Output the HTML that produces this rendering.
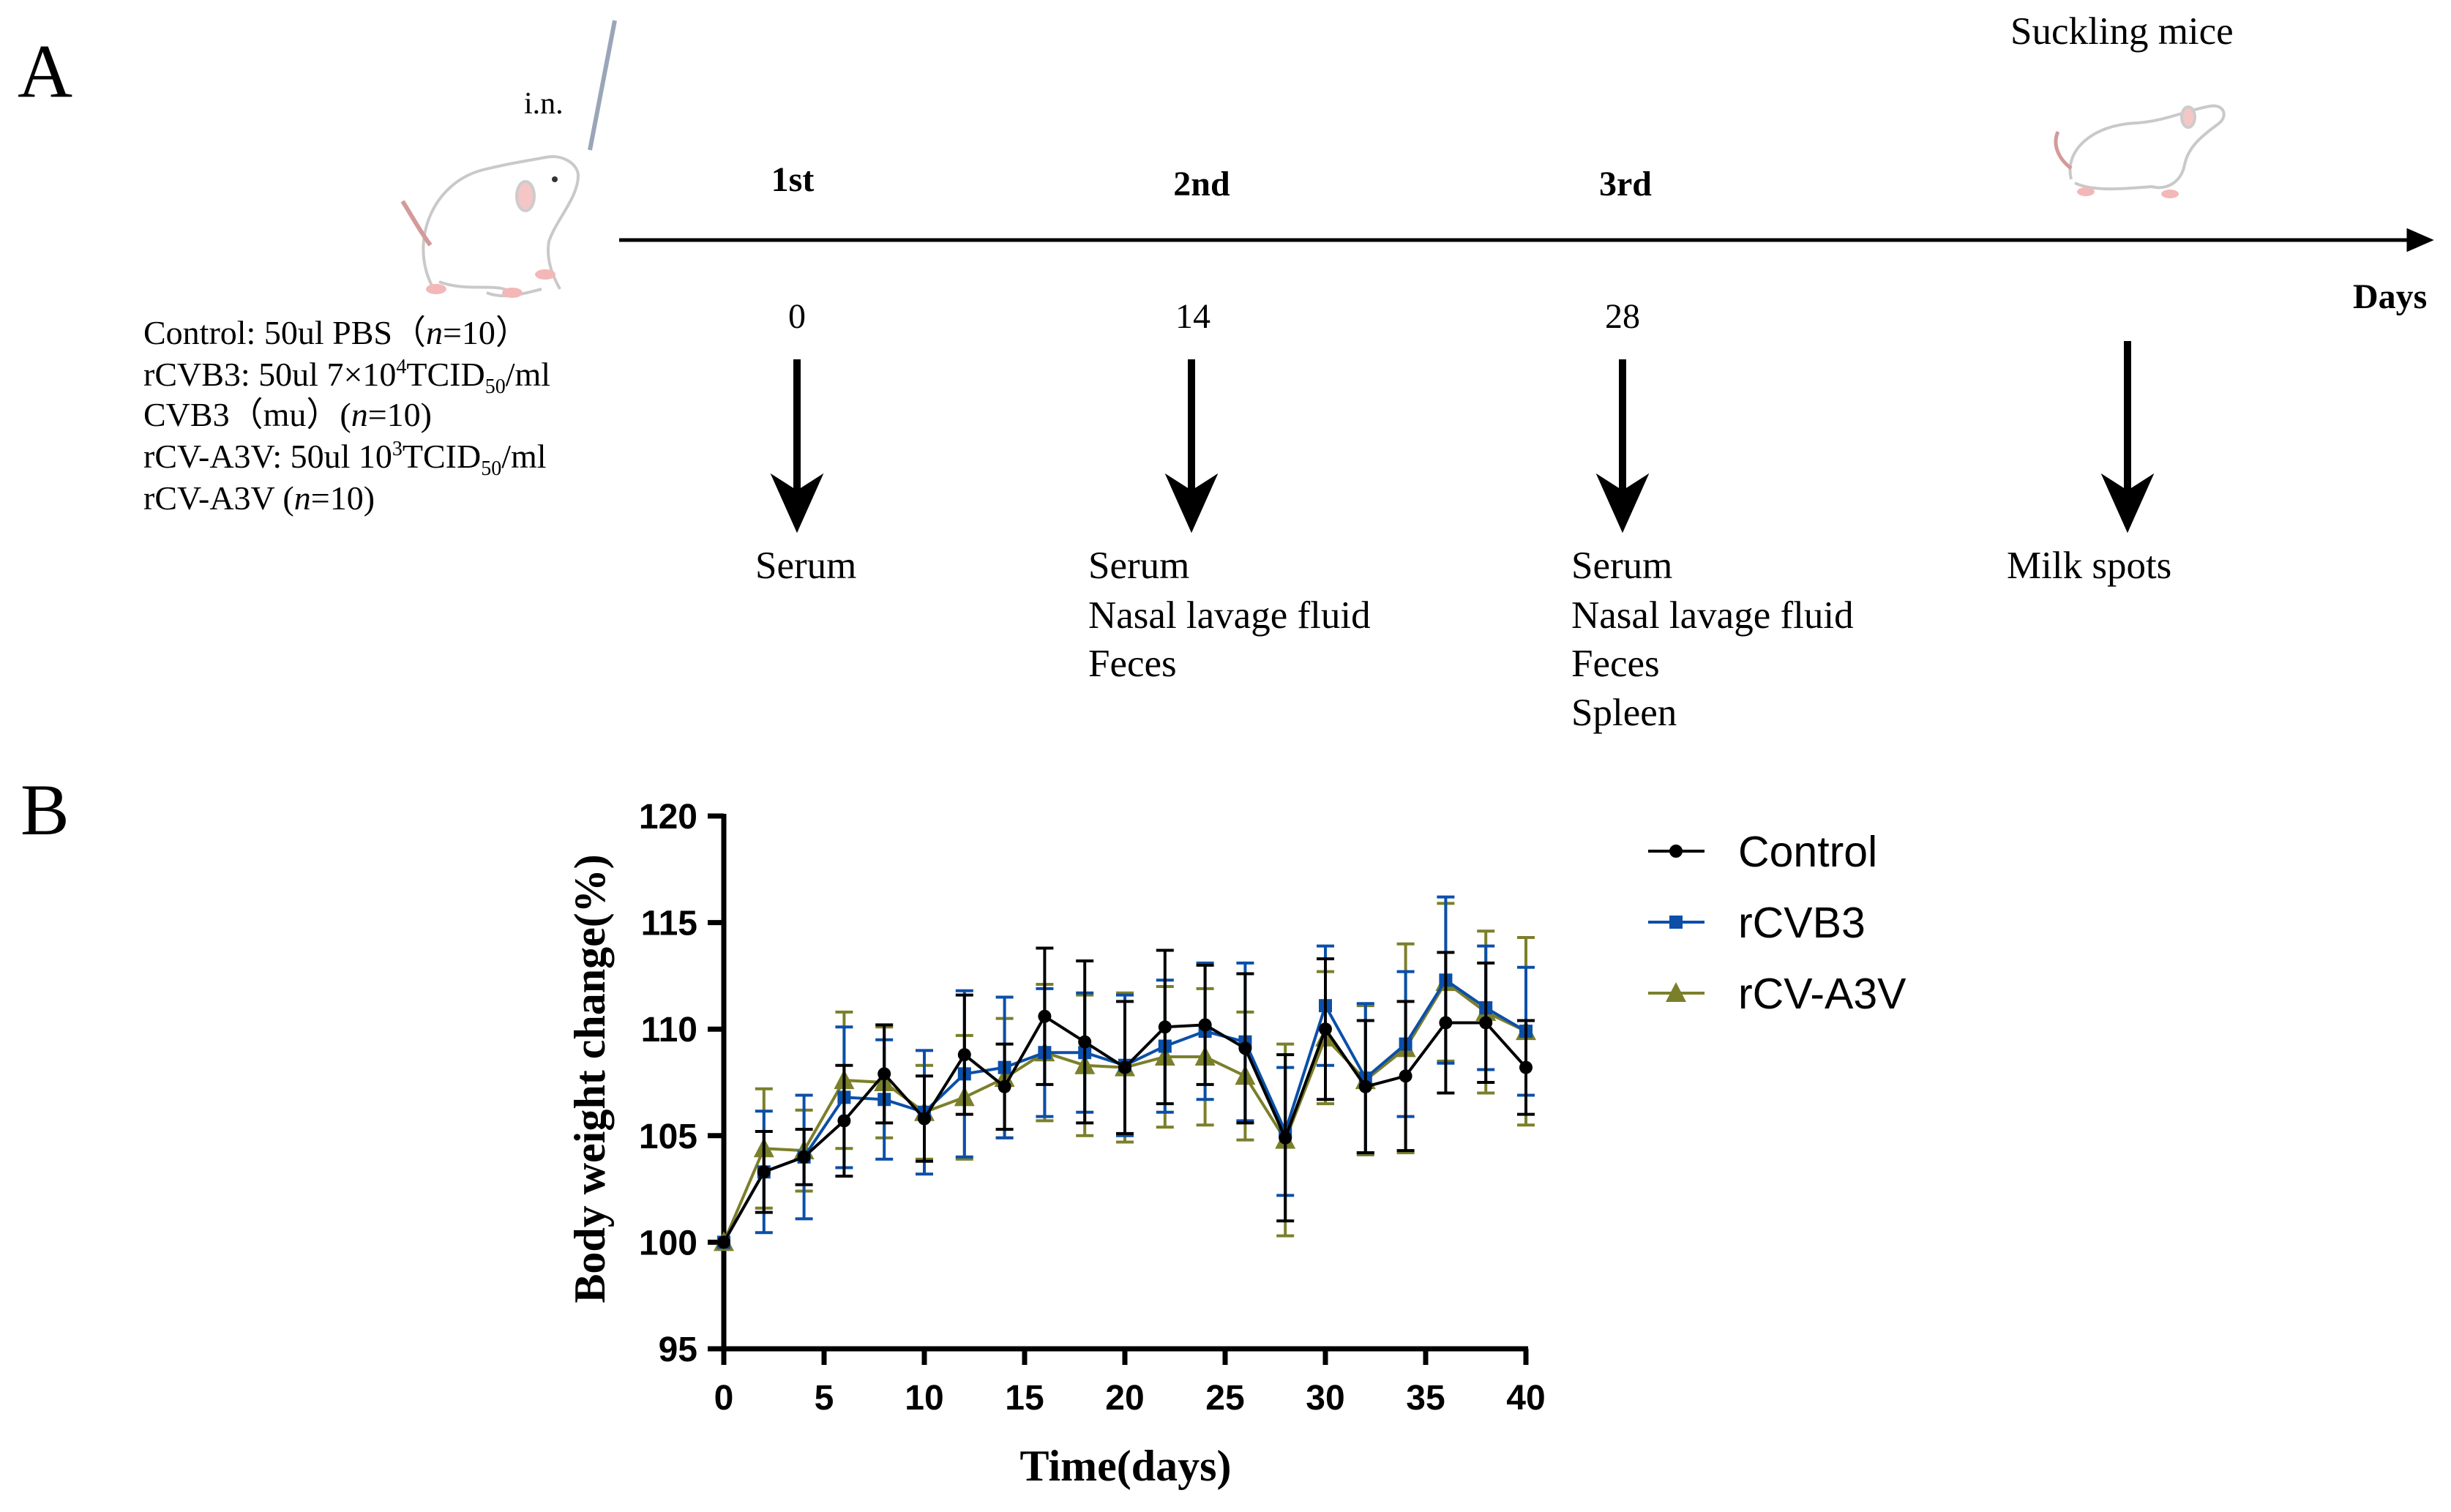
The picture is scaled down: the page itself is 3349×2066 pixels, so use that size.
<!DOCTYPE html>
<html><head><meta charset="utf-8"><style>
html,body{margin:0;padding:0;background:#fff}
svg{display:block}
.ser{font-family:"Liberation Serif",serif}
.san{font-family:"Liberation Sans",sans-serif}
</style></head><body>
<svg id="fig" width="3349" height="2066" viewBox="0 0 3349 2066" xmlns="http://www.w3.org/2000/svg">
<g>
<text class="ser" x="24" y="132" font-size="104">A</text>
<line x1="840" y1="28" x2="806" y2="205" stroke="#9aa6b8" stroke-width="6"/>
<text class="ser" x="716" y="155" font-size="42">i.n.</text>
<g fill="none" stroke="#c9c9c9" stroke-width="4">
<path d="M590 390 C560 330 590 250 660 232 C700 222 720 220 745 215 C770 210 790 225 790 240 C790 270 760 300 750 330 C745 360 760 385 765 395 M600 385 C640 400 680 385 700 400 M665 400 C690 410 720 400 740 395"/>
<path d="M588 335 C570 310 560 290 550 275" stroke="#d49a9a" stroke-width="6"/>
<ellipse cx="718" cy="268" rx="12" ry="20" fill="#f5c6c6" stroke="#ccc"/>
<circle cx="758" cy="245" r="4" fill="#333" stroke="none"/>
<ellipse cx="596" cy="395" rx="14" ry="7" fill="#f3b7b7" stroke="none"/>
<ellipse cx="700" cy="400" rx="14" ry="7" fill="#f3b7b7" stroke="none"/>
<ellipse cx="745" cy="375" rx="14" ry="7" fill="#f3b7b7" stroke="none"/>
</g>
<g class="ser" font-size="46">
<text x="196" y="470">Control: 50ul PBS（<tspan font-style="italic">n</tspan>=10）</text>
<text x="196" y="527">rCVB3: 50ul 7×10<tspan font-size="28" dy="-17">4</tspan><tspan dy="17">TCID</tspan><tspan font-size="28" dy="10">50</tspan><tspan dy="-10">/ml</tspan></text>
<text x="196" y="582">CVB3（mu）(<tspan font-style="italic">n</tspan>=10)</text>
<text x="196" y="639">rCV-A3V: 50ul 10<tspan font-size="28" dy="-17">3</tspan><tspan dy="17">TCID</tspan><tspan font-size="28" dy="10">50</tspan><tspan dy="-10">/ml</tspan></text>
<text x="196" y="696">rCV-A3V (<tspan font-style="italic">n</tspan>=10)</text>
</g>
<line x1="846" y1="328" x2="3300" y2="328" stroke="#000" stroke-width="5"/>
<path d="M3290 314 L3322 328 L3290 342 Z" fill="#000" stroke="#000" stroke-width="3"/>
<text class="ser" x="3215" y="421" font-size="48" font-weight="bold">Days</text>
<g class="ser" font-size="48" font-weight="bold" text-anchor="middle">
<text x="1083" y="261">1st</text><text x="1642" y="267">2nd</text><text x="2221" y="267">3rd</text>
</g>
<g class="ser" font-size="48" text-anchor="middle">
<text x="1089" y="448">0</text><text x="1630" y="448">14</text><text x="2217" y="448">28</text>
</g>
<g stroke="#000" stroke-width="10" fill="#000">
<line x1="1089" y1="491" x2="1089" y2="680"/><path d="M1064 660 L1089 716 L1114 660 L1089 676 Z"/>
<line x1="1628" y1="491" x2="1628" y2="680"/><path d="M1603 660 L1628 716 L1653 660 L1628 676 Z"/>
<line x1="2217" y1="491" x2="2217" y2="680"/><path d="M2192 660 L2217 716 L2242 660 L2217 676 Z"/>
<line x1="2907" y1="466" x2="2907" y2="680"/><path d="M2882 660 L2907 716 L2932 660 L2907 676 Z"/>
</g>
<g class="ser" font-size="53">
<text x="1032" y="790">Serum</text>
<text x="1487" y="790">Serum</text><text x="1487" y="858">Nasal lavage fluid</text><text x="1487" y="924">Feces</text>
<text x="2147" y="790">Serum</text><text x="2147" y="858">Nasal lavage fluid</text><text x="2147" y="924">Feces</text><text x="2147" y="991">Spleen</text>
<text x="2742" y="790">Milk spots</text>
</g>
<text class="ser" x="2747" y="60" font-size="53">Suckling mice</text>
<g fill="none" stroke="#c9c9c9" stroke-width="4">
<path d="M2830 245 C2820 205 2860 170 2920 168 C2960 165 2990 150 3020 145 C3040 142 3045 160 3030 170 C3010 185 2990 200 2985 225 C2980 250 2960 260 2940 255 C2900 258 2860 262 2835 250"/>
<path d="M2830 230 C2810 215 2805 195 2812 180" stroke="#d49a9a" stroke-width="5"/>
<ellipse cx="2990" cy="160" rx="9" ry="14" fill="#f5c6c6" stroke="#ccc"/>
<ellipse cx="2850" cy="262" rx="12" ry="6" fill="#f3b7b7" stroke="none"/>
<ellipse cx="2965" cy="265" rx="12" ry="6" fill="#f3b7b7" stroke="none"/>
</g>
</g>
<text class="ser" x="28" y="1140" font-size="100">B</text>
<g id="chart"></g>
</svg>
<script>
const days=[0,2,4,6,8,10,12,14,16,18,20,22,24,26,28,30,32,34,36,38,40];
const controlMean=[100,103.3,104.0,105.7,107.9,105.8,108.8,107.3,110.6,109.4,108.2,110.1,110.2,109.1,104.9,110.0,107.3,107.8,110.3,110.3,108.2];
const controlErr=[0,1.9,1.3,2.6,2.3,2.0,2.8,2.0,3.2,3.8,3.1,3.6,2.8,3.5,3.9,3.3,3.1,3.5,3.3,2.8,2.2];
const rcvb3Mean=[100,103.3,104.0,106.8,106.7,106.1,107.9,108.2,108.9,108.9,108.3,109.2,109.9,109.4,105.2,111.1,107.7,109.3,112.3,111.0,109.9];
const rcvb3Err=[0,2.85,2.9,3.3,2.8,2.9,3.9,3.3,3.0,2.8,3.3,3.1,3.2,3.7,3.0,2.8,3.5,3.4,3.9,2.9,3.0];
const a3vMean=[100,104.4,104.3,107.6,107.5,106.1,106.8,107.7,108.9,108.3,108.2,108.7,108.7,107.8,104.8,109.6,107.6,109.1,112.2,110.8,109.9];
const a3vErr=[0,2.8,1.9,3.2,2.6,2.2,2.9,2.8,3.2,3.3,3.5,3.3,3.2,3.0,4.5,3.1,3.5,4.9,3.7,3.8,4.4];
const yTicks=[95,100,105,110,115,120];
const xTicks=[0,5,10,15,20,25,30,35,40];
const seriesNames=["Control","rCVB3","rCV-A3V"];

const NS="http://www.w3.org/2000/svg";
const X0=989,X1=2085,Y0=1843,Y1=1115;
const xs=v=>X0+(v-0)/(40-0)*(X1-X0);
const ys=v=>Y0-(v-95)/(120-95)*(Y0-Y1);
const chart=document.getElementById('chart');
function mk(tag,attrs,parent){const e=document.createElementNS(NS,tag);for(const k in attrs)e.setAttribute(k,attrs[k]);(parent||chart).appendChild(e);return e;}

const yAxis=mk('line',{x1:X0,y1:Y1-3,x2:X0,y2:Y0+3,stroke:'#000','stroke-width':7});


const xAxis=mk('line',{x1:X0-3,y1:Y0,x2:X1+3,y2:Y0,stroke:'#000','stroke-width':7});


yTicks.forEach(t=>{
  const l=mk('line',{x1:X0-22,y1:ys(t),x2:X0,y2:ys(t),stroke:'#000','stroke-width':7});
  
  
  const tx=mk('text',{x:X0-36,y:ys(t)+17,'text-anchor':'end','font-size':48,'font-weight':'bold','font-family':'Liberation Sans, sans-serif'});
  
  
  tx.textContent=t;
});
xTicks.forEach(t=>{
  const l=mk('line',{x1:xs(t),y1:Y0,x2:xs(t),y2:Y0+22,stroke:'#000','stroke-width':7});
  
  
  const tx=mk('text',{x:xs(t),y:Y0+83,'text-anchor':'middle','font-size':48,'font-weight':'bold','font-family':'Liberation Sans, sans-serif'});
  
  
  tx.textContent=t;
});
const xt=mk('text',{x:1538,y:2023,'text-anchor':'middle','font-size':60,'font-weight':'bold','font-family':'Liberation Serif, serif'});


xt.textContent='Time(days)';
const yt=mk('text',{x:0,y:0,'text-anchor':'middle','font-size':60,'font-weight':'bold','font-family':'Liberation Serif, serif',transform:'translate(826,1474) rotate(-90)'});


yt.textContent='Body weight change(%)';

function marker(type,x,y,color,g){
  let m;
  if(type==='circle') m=mk('circle',{cx:x,cy:y,r:9,fill:color},g);
  else if(type==='square') m=mk('rect',{x:x-9,y:y-9,width:18,height:18,fill:color},g);
  else m=mk('path',{d:`M${x} ${y-15} L${x+14} ${y+12} L${x-14} ${y+12} Z`,fill:color},g);
  return m;
}
function drawSeries(means,errs,color,type,name){
  const g=mk('g',{});
  
  
  days.forEach((d,i)=>{
    if(!errs[i])return;
    const x=xs(d),t=ys(means[i]+errs[i]),b=ys(means[i]-errs[i]);
    const e=mk('path',{d:`M${x} ${t} L${x} ${b} M${x-12} ${t} L${x+12} ${t} M${x-12} ${b} L${x+12} ${b}`,stroke:color,'stroke-width':4,fill:'none'},g);
    
    
  });
  const ln=mk('polyline',{points:days.map((d,i)=>xs(d)+','+ys(means[i])).join(' '),fill:'none',stroke:color,'stroke-width':4},g);
  
  
  days.forEach((d,i)=>{
    const m=marker(type,xs(d),ys(means[i]),color,g);
    
    
  });
}
drawSeries(a3vMean,a3vErr,'#7b7f2a','tri','rcv-a3v');
drawSeries(rcvb3Mean,rcvb3Err,'#0b4fa8','square','rcvb3');
drawSeries(controlMean,controlErr,'#000','circle','control');

const legColors=['#000','#0b4fa8','#7b7f2a'],legTypes=['circle','square','tri'];
seriesNames.forEach((n,i)=>{
  const y=1163+i*97;
  const g=mk('g',{});
  
  
  mk('line',{x1:2252,y1:y,x2:2329,y2:y,stroke:legColors[i],'stroke-width':4},g);
  marker(legTypes[i],2290,y,legColors[i],g);
  const t=mk('text',{x:2375,y:y+21,'font-size':59,'font-family':'Liberation Sans, sans-serif'},g);
  t.textContent=n;
});
</script>
</body></html>
